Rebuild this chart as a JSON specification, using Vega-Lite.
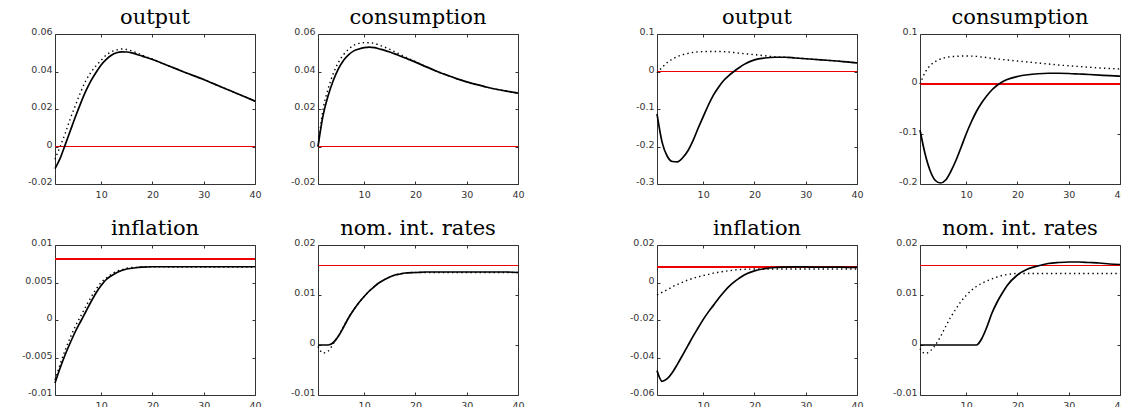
{
"$schema": "https://vega.github.io/schema/vega-lite/v6.json",
"padding": {"left": 20, "top": 6, "right": 0, "bottom": 0},
"background": "white",
"datasets": {"irf": [
{"p":"o1","x":1,"s":-0.0118,"d":-0.0068},{"p":"o1","x":2,"s":-0.0063,"d":0.0},{"p":"o1","x":3,"s":0.001,"d":0.007},{"p":"o1","x":4,"s":0.0085,"d":0.015},{"p":"o1","x":5,"s":0.016,"d":0.022},{"p":"o1","x":6,"s":0.023,"d":0.029},{"p":"o1","x":7,"s":0.0295,"d":0.035},{"p":"o1","x":8,"s":0.035,"d":0.0395},{"p":"o1","x":9,"s":0.0395,"d":0.043},{"p":"o1","x":10,"s":0.0435,"d":0.046},{"p":"o1","x":11,"s":0.0465,"d":0.0488},{"p":"o1","x":12,"s":0.0487,"d":0.0505},{"p":"o1","x":13,"s":0.05,"d":0.0515},{"p":"o1","x":14,"s":0.0505,"d":0.052},{"p":"o1","x":15,"s":0.0504,"d":0.0517},{"p":"o1","x":16,"s":0.0499,"d":0.051},{"p":"o1","x":17,"s":0.0491,"d":0.0499},{"p":"o1","x":18,"s":0.0482,"d":0.0487},{"p":"o1","x":20,"s":0.0464,"d":0.0466},{"p":"o1","x":22,"s":0.0443,"d":0.0443},{"p":"o1","x":24,"s":0.0421,"d":0.0421},{"p":"o1","x":26,"s":0.0399,"d":0.0399},{"p":"o1","x":28,"s":0.0378,"d":0.0378},{"p":"o1","x":30,"s":0.0357,"d":0.0357},{"p":"o1","x":32,"s":0.0334,"d":0.0334},{"p":"o1","x":34,"s":0.0311,"d":0.0311},{"p":"o1","x":36,"s":0.0288,"d":0.0288},{"p":"o1","x":38,"s":0.0265,"d":0.0265},{"p":"o1","x":40,"s":0.0242,"d":0.0242},
{"p":"c1","x":1,"s":0.0,"d":0.0},{"p":"c1","x":2,"s":0.0167,"d":0.02},{"p":"c1","x":3,"s":0.0273,"d":0.031},{"p":"c1","x":4,"s":0.0353,"d":0.039},{"p":"c1","x":5,"s":0.0415,"d":0.045},{"p":"c1","x":6,"s":0.046,"d":0.049},{"p":"c1","x":7,"s":0.049,"d":0.052},{"p":"c1","x":8,"s":0.051,"d":0.054},{"p":"c1","x":9,"s":0.052,"d":0.055},{"p":"c1","x":10,"s":0.0527,"d":0.0554},{"p":"c1","x":11,"s":0.053,"d":0.0553},{"p":"c1","x":12,"s":0.0527,"d":0.055},{"p":"c1","x":13,"s":0.052,"d":0.054},{"p":"c1","x":14,"s":0.0513,"d":0.053},{"p":"c1","x":15,"s":0.0504,"d":0.0518},{"p":"c1","x":16,"s":0.0494,"d":0.0505},{"p":"c1","x":17,"s":0.0483,"d":0.0492},{"p":"c1","x":18,"s":0.0472,"d":0.0478},{"p":"c1","x":20,"s":0.045,"d":0.0453},{"p":"c1","x":22,"s":0.0426,"d":0.0427},{"p":"c1","x":24,"s":0.0403,"d":0.0403},{"p":"c1","x":26,"s":0.0382,"d":0.0382},{"p":"c1","x":28,"s":0.0362,"d":0.0362},{"p":"c1","x":30,"s":0.0345,"d":0.0345},{"p":"c1","x":32,"s":0.033,"d":0.033},{"p":"c1","x":34,"s":0.0316,"d":0.0316},{"p":"c1","x":36,"s":0.0304,"d":0.0304},{"p":"c1","x":38,"s":0.0294,"d":0.0294},{"p":"c1","x":40,"s":0.0285,"d":0.0285},
{"p":"i1","x":1,"s":-0.0084,"d":-0.008},{"p":"i1","x":2,"s":-0.0064,"d":-0.0059},{"p":"i1","x":3,"s":-0.0046,"d":-0.004},{"p":"i1","x":4,"s":-0.003,"d":-0.0023},{"p":"i1","x":5,"s":-0.0015,"d":-0.0008},{"p":"i1","x":6,"s":-0.0002,"d":0.0005},{"p":"i1","x":7,"s":0.0011,"d":0.0018},{"p":"i1","x":8,"s":0.0024,"d":0.003},{"p":"i1","x":9,"s":0.0036,"d":0.0041},{"p":"i1","x":10,"s":0.0046,"d":0.005},{"p":"i1","x":11,"s":0.0054,"d":0.0056},{"p":"i1","x":12,"s":0.0059,"d":0.0061},{"p":"i1","x":13,"s":0.0063,"d":0.0065},{"p":"i1","x":14,"s":0.0066,"d":0.0067},{"p":"i1","x":15,"s":0.0068,"d":0.0069},{"p":"i1","x":16,"s":0.0069,"d":0.007},{"p":"i1","x":17,"s":0.007,"d":0.007},{"p":"i1","x":18,"s":0.00705,"d":0.0071},{"p":"i1","x":20,"s":0.0071,"d":0.0071},{"p":"i1","x":22,"s":0.0071,"d":0.0071},{"p":"i1","x":24,"s":0.0071,"d":0.00705},{"p":"i1","x":26,"s":0.0071,"d":0.00705},{"p":"i1","x":28,"s":0.0071,"d":0.00705},{"p":"i1","x":30,"s":0.0071,"d":0.00705},{"p":"i1","x":32,"s":0.0071,"d":0.00705},{"p":"i1","x":34,"s":0.0071,"d":0.00705},{"p":"i1","x":36,"s":0.0071,"d":0.00705},{"p":"i1","x":38,"s":0.0071,"d":0.00705},{"p":"i1","x":40,"s":0.0071,"d":0.00705},
{"p":"r1","x":1,"s":0.0,"d":-0.0003},{"p":"r1","x":2,"s":0.0,"d":-0.0016},{"p":"r1","x":3,"s":0.0,"d":-0.0012},{"p":"r1","x":4,"s":0.0005,"d":0.0003},{"p":"r1","x":5,"s":0.0018,"d":0.0019},{"p":"r1","x":6,"s":0.0036,"d":0.0037},{"p":"r1","x":7,"s":0.0055,"d":0.0056},{"p":"r1","x":8,"s":0.0071,"d":0.0071},{"p":"r1","x":9,"s":0.0085,"d":0.0085},{"p":"r1","x":10,"s":0.0097,"d":0.0097},{"p":"r1","x":11,"s":0.0108,"d":0.0108},{"p":"r1","x":12,"s":0.0117,"d":0.0117},{"p":"r1","x":13,"s":0.0125,"d":0.0125},{"p":"r1","x":14,"s":0.0131,"d":0.0131},{"p":"r1","x":15,"s":0.0136,"d":0.0136},{"p":"r1","x":16,"s":0.014,"d":0.014},{"p":"r1","x":17,"s":0.0142,"d":0.0142},{"p":"r1","x":18,"s":0.0144,"d":0.0144},{"p":"r1","x":20,"s":0.0145,"d":0.0145},{"p":"r1","x":22,"s":0.0146,"d":0.0145},{"p":"r1","x":24,"s":0.0146,"d":0.0145},{"p":"r1","x":26,"s":0.0146,"d":0.0145},{"p":"r1","x":28,"s":0.0146,"d":0.0145},{"p":"r1","x":30,"s":0.0146,"d":0.0145},{"p":"r1","x":32,"s":0.0146,"d":0.0145},{"p":"r1","x":34,"s":0.0146,"d":0.0145},{"p":"r1","x":36,"s":0.0146,"d":0.0145},{"p":"r1","x":38,"s":0.0146,"d":0.0145},{"p":"r1","x":40,"s":0.0145,"d":0.0145},
{"p":"o2","x":1,"s":-0.113,"d":-0.004},{"p":"o2","x":2,"s":-0.189,"d":0.011},{"p":"o2","x":3,"s":-0.226,"d":0.024},{"p":"o2","x":4,"s":-0.24,"d":0.033},{"p":"o2","x":5,"s":-0.241,"d":0.04},{"p":"o2","x":6,"s":-0.23,"d":0.045},{"p":"o2","x":7,"s":-0.212,"d":0.048},{"p":"o2","x":8,"s":-0.185,"d":0.051},{"p":"o2","x":9,"s":-0.152,"d":0.0525},{"p":"o2","x":10,"s":-0.121,"d":0.053},{"p":"o2","x":11,"s":-0.09,"d":0.0535},{"p":"o2","x":12,"s":-0.063,"d":0.0535},{"p":"o2","x":13,"s":-0.042,"d":0.0535},{"p":"o2","x":14,"s":-0.024,"d":0.053},{"p":"o2","x":15,"s":-0.011,"d":0.052},{"p":"o2","x":16,"s":0.0,"d":0.0505},{"p":"o2","x":17,"s":0.01,"d":0.049},{"p":"o2","x":18,"s":0.019,"d":0.0475},{"p":"o2","x":20,"s":0.031,"d":0.045},{"p":"o2","x":22,"s":0.036,"d":0.042},{"p":"o2","x":24,"s":0.038,"d":0.039},{"p":"o2","x":26,"s":0.038,"d":0.038},{"p":"o2","x":28,"s":0.036,"d":0.036},{"p":"o2","x":30,"s":0.034,"d":0.034},{"p":"o2","x":32,"s":0.032,"d":0.032},{"p":"o2","x":34,"s":0.03,"d":0.03},{"p":"o2","x":36,"s":0.028,"d":0.028},{"p":"o2","x":38,"s":0.0255,"d":0.0255},{"p":"o2","x":40,"s":0.023,"d":0.023},
{"p":"c2","x":1,"s":-0.092,"d":0.0},{"p":"c2","x":2,"s":-0.14,"d":0.023},{"p":"c2","x":3,"s":-0.174,"d":0.037},{"p":"c2","x":4,"s":-0.193,"d":0.045},{"p":"c2","x":5,"s":-0.198,"d":0.05},{"p":"c2","x":6,"s":-0.192,"d":0.053},{"p":"c2","x":7,"s":-0.175,"d":0.0545},{"p":"c2","x":8,"s":-0.153,"d":0.0553},{"p":"c2","x":9,"s":-0.127,"d":0.0558},{"p":"c2","x":10,"s":-0.1,"d":0.056},{"p":"c2","x":11,"s":-0.076,"d":0.0558},{"p":"c2","x":12,"s":-0.055,"d":0.0553},{"p":"c2","x":13,"s":-0.038,"d":0.054},{"p":"c2","x":14,"s":-0.024,"d":0.053},{"p":"c2","x":15,"s":-0.012,"d":0.0515},{"p":"c2","x":16,"s":-0.003,"d":0.0502},{"p":"c2","x":17,"s":0.004,"d":0.049},{"p":"c2","x":18,"s":0.009,"d":0.048},{"p":"c2","x":20,"s":0.0150,"d":0.046},{"p":"c2","x":22,"s":0.0185,"d":0.044},{"p":"c2","x":24,"s":0.0205,"d":0.042},{"p":"c2","x":26,"s":0.0215,"d":0.04},{"p":"c2","x":28,"s":0.0215,"d":0.038},{"p":"c2","x":30,"s":0.021,"d":0.0365},{"p":"c2","x":32,"s":0.02,"d":0.035},{"p":"c2","x":34,"s":0.019,"d":0.0335},{"p":"c2","x":36,"s":0.0178,"d":0.032},{"p":"c2","x":38,"s":0.0166,"d":0.031},{"p":"c2","x":40,"s":0.0155,"d":0.03},
{"p":"i2","x":1,"s":-0.047,"d":-0.0066},{"p":"i2","x":2,"s":-0.0527,"d":-0.0052},{"p":"i2","x":3,"s":-0.0513,"d":-0.0039},{"p":"i2","x":4,"s":-0.048,"d":-0.0023},{"p":"i2","x":5,"s":-0.0435,"d":-0.001},{"p":"i2","x":6,"s":-0.0387,"d":0.0002},{"p":"i2","x":7,"s":-0.0338,"d":0.0013},{"p":"i2","x":8,"s":-0.0289,"d":0.0022},{"p":"i2","x":9,"s":-0.0243,"d":0.003},{"p":"i2","x":10,"s":-0.0198,"d":0.0037},{"p":"i2","x":11,"s":-0.0158,"d":0.0043},{"p":"i2","x":12,"s":-0.0122,"d":0.005},{"p":"i2","x":13,"s":-0.0085,"d":0.0055},{"p":"i2","x":14,"s":-0.0052,"d":0.0059},{"p":"i2","x":15,"s":-0.0022,"d":0.0063},{"p":"i2","x":16,"s":0.0002,"d":0.0066},{"p":"i2","x":17,"s":0.0022,"d":0.0069},{"p":"i2","x":18,"s":0.004,"d":0.007},{"p":"i2","x":20,"s":0.0062,"d":0.0072},{"p":"i2","x":22,"s":0.0074,"d":0.0072},{"p":"i2","x":24,"s":0.008,"d":0.0072},{"p":"i2","x":26,"s":0.0082,"d":0.0072},{"p":"i2","x":28,"s":0.0083,"d":0.0072},{"p":"i2","x":30,"s":0.0083,"d":0.0072},{"p":"i2","x":32,"s":0.0082,"d":0.0072},{"p":"i2","x":34,"s":0.0082,"d":0.0072},{"p":"i2","x":36,"s":0.0082,"d":0.0072},{"p":"i2","x":38,"s":0.0081,"d":0.0072},{"p":"i2","x":40,"s":0.0081,"d":0.0072},
{"p":"r2","x":1,"s":0.0,"d":-0.0007},{"p":"r2","x":2,"s":0.0,"d":-0.0017},{"p":"r2","x":3,"s":0.0,"d":-0.0012},{"p":"r2","x":4,"s":0.0,"d":0.0},{"p":"r2","x":5,"s":0.0,"d":0.0017},{"p":"r2","x":6,"s":0.0,"d":0.0037},{"p":"r2","x":7,"s":0.0,"d":0.0056},{"p":"r2","x":8,"s":0.0,"d":0.0072},{"p":"r2","x":9,"s":0.0,"d":0.0087},{"p":"r2","x":10,"s":0.0,"d":0.0099},{"p":"r2","x":11,"s":0.0,"d":0.0109},{"p":"r2","x":12,"s":0.0,"d":0.0117},{"p":"r2","x":13,"s":0.0012,"d":0.0123},{"p":"r2","x":14,"s":0.0035,"d":0.0128},{"p":"r2","x":15,"s":0.0063,"d":0.0132},{"p":"r2","x":16,"s":0.0085,"d":0.0136},{"p":"r2","x":17,"s":0.0103,"d":0.0139},{"p":"r2","x":18,"s":0.0119,"d":0.0141},{"p":"r2","x":20,"s":0.014,"d":0.0143},{"p":"r2","x":22,"s":0.0152,"d":0.0143},{"p":"r2","x":24,"s":0.0158,"d":0.0143},{"p":"r2","x":26,"s":0.0163,"d":0.0143},{"p":"r2","x":28,"s":0.0165,"d":0.0143},{"p":"r2","x":30,"s":0.0166,"d":0.0143},{"p":"r2","x":32,"s":0.0166,"d":0.0143},{"p":"r2","x":34,"s":0.0165,"d":0.0143},{"p":"r2","x":36,"s":0.0164,"d":0.0143},{"p":"r2","x":38,"s":0.0162,"d":0.0143},{"p":"r2","x":40,"s":0.0161,"d":0.0143}
],
"blank": [{"k": 1}]},
"data": {"name": "irf"},
"bounds": "flush",
"align": "each",
"columns": 5,
"spacing": {"row": 61, "column": 63},
"concat": [
   {"width": 200, "height": 150, "title": "output", "transform": [{"filter": "datum.p === 'o1'"}], "layer": [
     {"mark": {"type": "rule", "color": "#ee0000", "strokeWidth": 1}, "encoding": {"y": {"datum": 0, "type": "quantitative", "scale": {"domain": [-0.02, 0.06], "nice": false, "zero": false}, "axis": null}}},
     {"mark": {"type": "line", "color": "black", "strokeWidth": 1.4, "strokeDash": [1.4, 3.2], "interpolate": "monotone"}, "encoding": {"x": {"field": "x", "type": "quantitative", "title": null, "scale": {"domain": [1, 40], "nice": false, "zero": false}, "axis": {"orient": "top", "labels": false, "labelPadding": 0, "minExtent": 0, "maxExtent": 0, "values": [10, 20, 30, 40]}}, "y": {"field": "d", "type": "quantitative", "title": null, "scale": {"domain": [-0.02, 0.06], "nice": false, "zero": false}, "axis": {"orient": "right", "labels": false, "labelPadding": 0, "minExtent": 0, "maxExtent": 0, "values": [-0.02, 0, 0.02, 0.04, 0.06]}}}},
     {"mark": {"type": "line", "color": "black", "strokeWidth": 1.7, "interpolate": "monotone"}, "encoding": {"x": {"field": "x", "type": "quantitative", "title": null, "scale": {"domain": [1, 40], "nice": false, "zero": false}, "axis": {"orient": "bottom", "values": [10, 20, 30, 40]}}, "y": {"field": "s", "type": "quantitative", "title": null, "scale": {"domain": [-0.02, 0.06], "nice": false, "zero": false}, "axis": {"orient": "left", "values": [-0.02, 0, 0.02, 0.04, 0.06]}}}}
   ]},
   {"width": 200, "height": 150, "title": "consumption", "transform": [{"filter": "datum.p === 'c1'"}], "layer": [
     {"mark": {"type": "rule", "color": "#ee0000", "strokeWidth": 1}, "encoding": {"y": {"datum": 0, "type": "quantitative", "scale": {"domain": [-0.02, 0.06], "nice": false, "zero": false}, "axis": null}}},
     {"mark": {"type": "line", "color": "black", "strokeWidth": 1.4, "strokeDash": [1.4, 3.2], "interpolate": "monotone"}, "encoding": {"x": {"field": "x", "type": "quantitative", "title": null, "scale": {"domain": [1, 40], "nice": false, "zero": false}, "axis": {"orient": "top", "labels": false, "labelPadding": 0, "minExtent": 0, "maxExtent": 0, "values": [10, 20, 30, 40]}}, "y": {"field": "d", "type": "quantitative", "title": null, "scale": {"domain": [-0.02, 0.06], "nice": false, "zero": false}, "axis": {"orient": "right", "labels": false, "labelPadding": 0, "minExtent": 0, "maxExtent": 0, "values": [-0.02, 0, 0.02, 0.04, 0.06]}}}},
     {"mark": {"type": "line", "color": "black", "strokeWidth": 1.7, "interpolate": "monotone"}, "encoding": {"x": {"field": "x", "type": "quantitative", "title": null, "scale": {"domain": [1, 40], "nice": false, "zero": false}, "axis": {"orient": "bottom", "values": [10, 20, 30, 40]}}, "y": {"field": "s", "type": "quantitative", "title": null, "scale": {"domain": [-0.02, 0.06], "nice": false, "zero": false}, "axis": {"orient": "left", "values": [-0.02, 0, 0.02, 0.04, 0.06]}}}}
   ]},
   {"width": 13, "height": 150, "data": {"name": "blank"}, "view": {"stroke": null}, "mark": {"type": "point", "opacity": 0}, "encoding": {}},
   {"width": 200, "height": 150, "title": "output", "transform": [{"filter": "datum.p === 'o2'"}], "layer": [
     {"mark": {"type": "rule", "color": "#ee0000", "strokeWidth": 1}, "encoding": {"y": {"datum": 0, "type": "quantitative", "scale": {"domain": [-0.3, 0.1], "nice": false, "zero": false}, "axis": null}}},
     {"mark": {"type": "line", "color": "black", "strokeWidth": 1.4, "strokeDash": [1.4, 3.2], "interpolate": "monotone"}, "encoding": {"x": {"field": "x", "type": "quantitative", "title": null, "scale": {"domain": [1, 40], "nice": false, "zero": false}, "axis": {"orient": "top", "labels": false, "labelPadding": 0, "minExtent": 0, "maxExtent": 0, "values": [10, 20, 30, 40]}}, "y": {"field": "d", "type": "quantitative", "title": null, "scale": {"domain": [-0.3, 0.1], "nice": false, "zero": false}, "axis": {"orient": "right", "labels": false, "labelPadding": 0, "minExtent": 0, "maxExtent": 0, "values": [-0.3, -0.2, -0.1, 0, 0.1]}}}},
     {"mark": {"type": "line", "color": "black", "strokeWidth": 1.7, "interpolate": "monotone"}, "encoding": {"x": {"field": "x", "type": "quantitative", "title": null, "scale": {"domain": [1, 40], "nice": false, "zero": false}, "axis": {"orient": "bottom", "values": [10, 20, 30, 40]}}, "y": {"field": "s", "type": "quantitative", "title": null, "scale": {"domain": [-0.3, 0.1], "nice": false, "zero": false}, "axis": {"orient": "left", "values": [-0.3, -0.2, -0.1, 0, 0.1]}}}}
   ]},
   {"width": 200, "height": 150, "title": "consumption", "transform": [{"filter": "datum.p === 'c2'"}], "layer": [
     {"mark": {"type": "rule", "color": "#ee0000", "strokeWidth": 1}, "encoding": {"y": {"datum": 0, "type": "quantitative", "scale": {"domain": [-0.2, 0.1], "nice": false, "zero": false}, "axis": null}}},
     {"mark": {"type": "line", "color": "black", "strokeWidth": 1.4, "strokeDash": [1.4, 3.2], "interpolate": "monotone"}, "encoding": {"x": {"field": "x", "type": "quantitative", "title": null, "scale": {"domain": [1, 40], "nice": false, "zero": false}, "axis": {"orient": "top", "labels": false, "labelPadding": 0, "minExtent": 0, "maxExtent": 0, "values": [10, 20, 30, 40]}}, "y": {"field": "d", "type": "quantitative", "title": null, "scale": {"domain": [-0.2, 0.1], "nice": false, "zero": false}, "axis": {"orient": "right", "labels": false, "labelPadding": 0, "minExtent": 0, "maxExtent": 0, "values": [-0.2, -0.1, 0, 0.1]}}}},
     {"mark": {"type": "line", "color": "black", "strokeWidth": 1.7, "interpolate": "monotone"}, "encoding": {"x": {"field": "x", "type": "quantitative", "title": null, "scale": {"domain": [1, 40], "nice": false, "zero": false}, "axis": {"orient": "bottom", "values": [10, 20, 30, 40]}}, "y": {"field": "s", "type": "quantitative", "title": null, "scale": {"domain": [-0.2, 0.1], "nice": false, "zero": false}, "axis": {"orient": "left", "values": [-0.2, -0.1, 0, 0.1]}}}}
   ]},
   {"width": 200, "height": 150, "title": "inflation", "transform": [{"filter": "datum.p === 'i1'"}], "layer": [
     {"mark": {"type": "rule", "color": "#ee0000", "strokeWidth": 1.2}, "encoding": {"y": {"datum": 0.0081, "type": "quantitative", "scale": {"domain": [-0.01, 0.01], "nice": false, "zero": false}, "axis": null}}},
     {"mark": {"type": "line", "color": "black", "strokeWidth": 1.4, "strokeDash": [1.4, 3.2], "interpolate": "monotone"}, "encoding": {"x": {"field": "x", "type": "quantitative", "title": null, "scale": {"domain": [1, 40], "nice": false, "zero": false}, "axis": {"orient": "top", "labels": false, "labelPadding": 0, "minExtent": 0, "maxExtent": 0, "values": [10, 20, 30, 40]}}, "y": {"field": "d", "type": "quantitative", "title": null, "scale": {"domain": [-0.01, 0.01], "nice": false, "zero": false}, "axis": {"orient": "right", "labels": false, "labelPadding": 0, "minExtent": 0, "maxExtent": 0, "values": [-0.01, -0.005, 0, 0.005, 0.01]}}}},
     {"mark": {"type": "line", "color": "black", "strokeWidth": 1.7, "interpolate": "monotone"}, "encoding": {"x": {"field": "x", "type": "quantitative", "title": null, "scale": {"domain": [1, 40], "nice": false, "zero": false}, "axis": {"orient": "bottom", "values": [10, 20, 30, 40]}}, "y": {"field": "s", "type": "quantitative", "title": null, "scale": {"domain": [-0.01, 0.01], "nice": false, "zero": false}, "axis": {"orient": "left", "values": [-0.01, -0.005, 0, 0.005, 0.01]}}}}
   ]},
   {"width": 200, "height": 150, "title": "nom. int. rates", "transform": [{"filter": "datum.p === 'r1'"}], "layer": [
     {"mark": {"type": "rule", "color": "#ee0000", "strokeWidth": 1.2}, "encoding": {"y": {"datum": 0.0159, "type": "quantitative", "scale": {"domain": [-0.01, 0.02], "nice": false, "zero": false}, "axis": null}}},
     {"mark": {"type": "line", "color": "black", "strokeWidth": 1.4, "strokeDash": [1.4, 3.2], "interpolate": "monotone"}, "encoding": {"x": {"field": "x", "type": "quantitative", "title": null, "scale": {"domain": [1, 40], "nice": false, "zero": false}, "axis": {"orient": "top", "labels": false, "labelPadding": 0, "minExtent": 0, "maxExtent": 0, "values": [10, 20, 30, 40]}}, "y": {"field": "d", "type": "quantitative", "title": null, "scale": {"domain": [-0.01, 0.02], "nice": false, "zero": false}, "axis": {"orient": "right", "labels": false, "labelPadding": 0, "minExtent": 0, "maxExtent": 0, "values": [-0.01, 0, 0.01, 0.02]}}}},
     {"mark": {"type": "line", "color": "black", "strokeWidth": 1.7, "interpolate": "monotone"}, "encoding": {"x": {"field": "x", "type": "quantitative", "title": null, "scale": {"domain": [1, 40], "nice": false, "zero": false}, "axis": {"orient": "bottom", "values": [10, 20, 30, 40]}}, "y": {"field": "s", "type": "quantitative", "title": null, "scale": {"domain": [-0.01, 0.02], "nice": false, "zero": false}, "axis": {"orient": "left", "values": [-0.01, 0, 0.01, 0.02]}}}}
   ]},
   {"width": 13, "height": 150, "data": {"name": "blank"}, "view": {"stroke": null}, "mark": {"type": "point", "opacity": 0}, "encoding": {}},
   {"width": 200, "height": 150, "title": "inflation", "transform": [{"filter": "datum.p === 'i2'"}], "layer": [
     {"mark": {"type": "rule", "color": "#ee0000", "strokeWidth": 1.2}, "encoding": {"y": {"datum": 0.0083, "type": "quantitative", "scale": {"domain": [-0.06, 0.02], "nice": false, "zero": false}, "axis": null}}},
     {"mark": {"type": "line", "color": "black", "strokeWidth": 1.4, "strokeDash": [1.4, 3.2], "interpolate": "monotone"}, "encoding": {"x": {"field": "x", "type": "quantitative", "title": null, "scale": {"domain": [1, 40], "nice": false, "zero": false}, "axis": {"orient": "top", "labels": false, "labelPadding": 0, "minExtent": 0, "maxExtent": 0, "values": [10, 20, 30, 40]}}, "y": {"field": "d", "type": "quantitative", "title": null, "scale": {"domain": [-0.06, 0.02], "nice": false, "zero": false}, "axis": {"orient": "right", "labels": false, "labelPadding": 0, "minExtent": 0, "maxExtent": 0, "values": [-0.06, -0.04, -0.02, 0, 0.02]}}}},
     {"mark": {"type": "line", "color": "black", "strokeWidth": 1.7, "interpolate": "monotone"}, "encoding": {"x": {"field": "x", "type": "quantitative", "title": null, "scale": {"domain": [1, 40], "nice": false, "zero": false}, "axis": {"orient": "bottom", "values": [10, 20, 30, 40]}}, "y": {"field": "s", "type": "quantitative", "title": null, "scale": {"domain": [-0.06, 0.02], "nice": false, "zero": false}, "axis": {"orient": "left", "values": [-0.06, -0.04, -0.02, 0, 0.02]}}}}
   ]},
   {"width": 200, "height": 150, "title": "nom. int. rates", "transform": [{"filter": "datum.p === 'r2'"}], "layer": [
     {"mark": {"type": "rule", "color": "#ee0000", "strokeWidth": 1.2}, "encoding": {"y": {"datum": 0.0159, "type": "quantitative", "scale": {"domain": [-0.01, 0.02], "nice": false, "zero": false}, "axis": null}}},
     {"mark": {"type": "line", "color": "black", "strokeWidth": 1.4, "strokeDash": [1.4, 3.2], "interpolate": "monotone"}, "encoding": {"x": {"field": "x", "type": "quantitative", "title": null, "scale": {"domain": [1, 40], "nice": false, "zero": false}, "axis": {"orient": "top", "labels": false, "labelPadding": 0, "minExtent": 0, "maxExtent": 0, "values": [10, 20, 30, 40]}}, "y": {"field": "d", "type": "quantitative", "title": null, "scale": {"domain": [-0.01, 0.02], "nice": false, "zero": false}, "axis": {"orient": "right", "labels": false, "labelPadding": 0, "minExtent": 0, "maxExtent": 0, "values": [-0.01, 0, 0.01, 0.02]}}}},
     {"mark": {"type": "line", "color": "black", "strokeWidth": 1.7, "interpolate": "monotone"}, "encoding": {"x": {"field": "x", "type": "quantitative", "title": null, "scale": {"domain": [1, 40], "nice": false, "zero": false}, "axis": {"orient": "bottom", "values": [10, 20, 30, 40]}}, "y": {"field": "s", "type": "quantitative", "title": null, "scale": {"domain": [-0.01, 0.02], "nice": false, "zero": false}, "axis": {"orient": "left", "values": [-0.01, 0, 0.01, 0.02]}}}}
   ]}
],
"config": {
  "view": {"stroke": "#333333", "strokeWidth": 1},
  "axis": {"grid": false, "domain": false, "tickSize": -3, "tickColor": "#333333", "tickWidth": 1, "labelFont": "DejaVu Sans", "labelFontSize": 9.5, "labelColor": "#333333", "labelFlush": false, "labelOverlap": false, "labelExpr": "datum.value < 0 ? '-' + format(-datum.value, '~g') : format(datum.value, '~g')"},
  "axisX": {"labelPadding": 8},
  "axisY": {"labelPadding": 6, "labelOffset": -2.5},
  "title": {"font": "DejaVu Serif", "fontSize": 21, "fontWeight": "normal", "color": "black", "frame": "group", "offset": -1, "baseline": "bottom", "anchor": "middle"}
}
}
